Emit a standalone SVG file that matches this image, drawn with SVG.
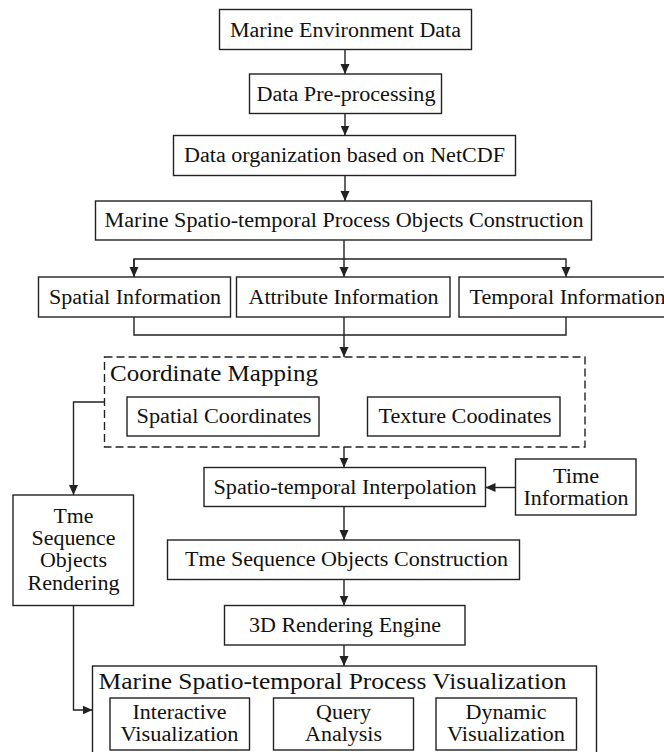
<svg xmlns="http://www.w3.org/2000/svg" width="664" height="752" viewBox="0 0 664 752">
<defs>
<style>
.b{fill:#fff;stroke:#222;stroke-width:1.4}
.d{fill:none;stroke:#222;stroke-width:1.4;stroke-dasharray:8 4}
.t{font-family:"Liberation Serif","Times New Roman",serif;font-size:20px;fill:#111;text-anchor:middle}
.h{font-family:"Liberation Serif","Times New Roman",serif;font-size:23px;fill:#111}
.c{fill:none;stroke:#222;stroke-width:1.4}
</style>
<marker id="ar" viewBox="0 0 10 10" refX="10" refY="5" markerWidth="10" markerHeight="10" markerUnits="userSpaceOnUse" orient="auto">
<path d="M0,0.5 L10,5 L0,9.5 Z" fill="#222"/>
</marker>
</defs>
<rect width="664" height="752" fill="#fff"/>

<g id="connectors">
<path class="c" d="M345,49.5 V74" marker-end="url(#ar)"/>
<path class="c" d="M345,113.5 V135.5" marker-end="url(#ar)"/>
<path class="c" d="M345,175.5 V201" marker-end="url(#ar)"/>
<path class="c" d="M344,240 V277" marker-end="url(#ar)"/>
<path class="c" d="M134,277 V259 H566 V277" marker-end="url(#ar)"/>
<path class="c" d="M134,259 V277" marker-end="url(#ar)"/>
<path class="c" d="M134,317 V335 H566 V317"/>
<path class="c" d="M344,317 V357" marker-end="url(#ar)"/>
<path class="c" d="M104,402 H73.5 V495" marker-end="url(#ar)"/>
<path class="c" d="M344,447 V467.5" marker-end="url(#ar)"/>
<path class="c" d="M515.5,487.5 H485.5" marker-end="url(#ar)"/>
<path class="c" d="M344,506.5 V540" marker-end="url(#ar)"/>
<path class="c" d="M344,579.5 V605.5" marker-end="url(#ar)"/>
<path class="c" d="M344,645 V666" marker-end="url(#ar)"/>
<path class="c" d="M73.5,605.5 V710 H92.5" marker-end="url(#ar)"/>
</g>

<g id="n1"><rect class="b" x="219.5" y="9.5" width="252" height="40"/><text class="t" x="345.5" y="36.5" textLength="231" lengthAdjust="spacingAndGlyphs">Marine Environment Data</text></g>
<g id="n2"><rect class="b" x="249.5" y="74" width="192" height="39.5"/><text class="t" x="346" y="100.5" textLength="179" lengthAdjust="spacingAndGlyphs">Data Pre-processing</text></g>
<g id="n3"><rect class="b" x="173.5" y="135.5" width="342" height="40"/><text class="t" x="344.5" y="162" textLength="321" lengthAdjust="spacingAndGlyphs">Data organization based on NetCDF</text></g>
<g id="n4"><rect class="b" x="95.5" y="201" width="496" height="39"/><text class="t" x="344" y="227" textLength="479" lengthAdjust="spacingAndGlyphs">Marine Spatio-temporal Process Objects Construction</text></g>
<g id="n5"><rect class="b" x="38.5" y="277" width="192" height="40"/><text class="t" x="135" y="303.5" textLength="172" lengthAdjust="spacingAndGlyphs">Spatial Information</text></g>
<g id="n6"><rect class="b" x="236.5" y="277" width="213.5" height="40"/><text class="t" x="343.5" y="303.5" textLength="190" lengthAdjust="spacingAndGlyphs">Attribute Information</text></g>
<g id="n7"><rect class="b" x="459" y="277" width="210" height="40"/><text class="t" x="567.5" y="303.5" textLength="196" lengthAdjust="spacingAndGlyphs">Temporal Information</text></g>

<g id="n8">
<rect class="d" x="104.5" y="357" width="480.5" height="90"/>
<text class="h" x="110" y="381" textLength="208" lengthAdjust="spacingAndGlyphs">Coordinate Mapping</text>
<g id="n8a"><rect class="b" x="127" y="397" width="192" height="39"/><text class="t" x="224" y="423" textLength="175" lengthAdjust="spacingAndGlyphs">Spatial Coordinates</text></g>
<g id="n8b"><rect class="b" x="367.5" y="397" width="192.5" height="39"/><text class="t" x="465" y="423" textLength="173" lengthAdjust="spacingAndGlyphs">Texture Coodinates</text></g>
</g>

<g id="n9"><rect class="b" x="204" y="467.5" width="281.5" height="39"/><text class="t" x="345" y="493.5" textLength="263" lengthAdjust="spacingAndGlyphs">Spatio-temporal Interpolation</text></g>
<g id="n10"><rect class="b" x="515.5" y="459" width="120.5" height="56"/><text class="t" x="576" y="482.5" textLength="46" lengthAdjust="spacingAndGlyphs">Time</text><text class="t" x="576" y="505" textLength="105" lengthAdjust="spacingAndGlyphs">Information</text></g>
<g id="n11"><rect class="b" x="13" y="495" width="120.5" height="110.5"/>
<text class="t" x="73.5" y="522.5" textLength="40" lengthAdjust="spacingAndGlyphs">Tme</text>
<text class="t" x="73.5" y="545" textLength="84" lengthAdjust="spacingAndGlyphs">Sequence</text>
<text class="t" x="73.5" y="567" textLength="67" lengthAdjust="spacingAndGlyphs">Objects</text>
<text class="t" x="73.5" y="590" textLength="92" lengthAdjust="spacingAndGlyphs">Rendering</text></g>
<g id="n12"><rect class="b" x="167.5" y="540" width="352" height="39.5"/><text class="t" x="346.5" y="566" textLength="323" lengthAdjust="spacingAndGlyphs">Tme Sequence Objects Construction</text></g>
<g id="n13"><rect class="b" x="224.5" y="605.5" width="240.5" height="39.5"/><text class="t" x="345" y="632" textLength="192" lengthAdjust="spacingAndGlyphs">3D Rendering Engine</text></g>

<g id="n14">
<rect class="b" x="92.5" y="666" width="504" height="90"/>
<text class="h" x="98.5" y="688.5" textLength="468" lengthAdjust="spacingAndGlyphs">Marine Spatio-temporal Process Visualization</text>
<g id="n14a"><rect class="b" x="110" y="698" width="139.5" height="52"/><text class="t" x="179.5" y="719" textLength="94" lengthAdjust="spacingAndGlyphs">Interactive</text><text class="t" x="179.5" y="741" textLength="118" lengthAdjust="spacingAndGlyphs">Visualization</text></g>
<g id="n14b"><rect class="b" x="273.5" y="698" width="140" height="52"/><text class="t" x="343.5" y="719" textLength="55" lengthAdjust="spacingAndGlyphs">Query</text><text class="t" x="343.5" y="741" textLength="77" lengthAdjust="spacingAndGlyphs">Analysis</text></g>
<g id="n14c"><rect class="b" x="436" y="698" width="140.5" height="52"/><text class="t" x="506" y="719" textLength="81" lengthAdjust="spacingAndGlyphs">Dynamic</text><text class="t" x="506" y="741" textLength="118" lengthAdjust="spacingAndGlyphs">Visualization</text></g>
</g>
</svg>
